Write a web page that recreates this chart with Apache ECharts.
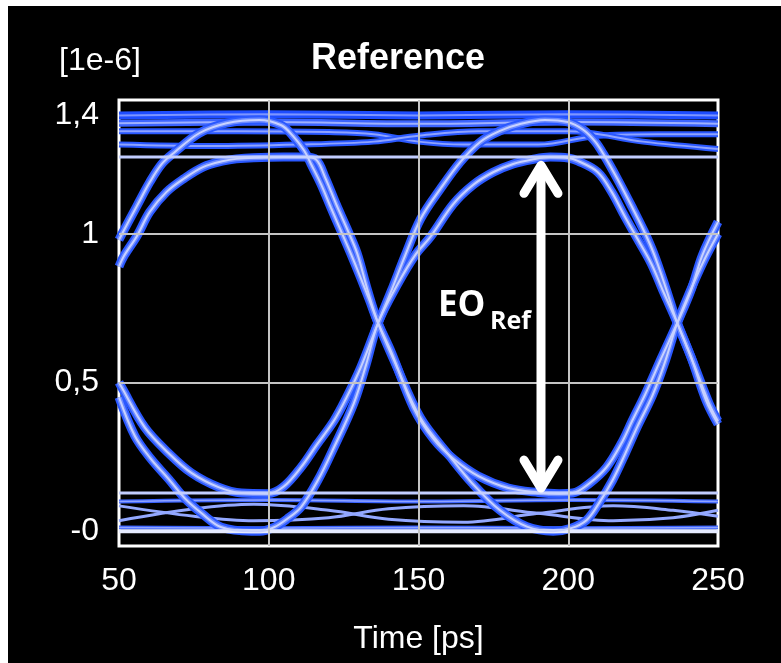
<!DOCTYPE html>
<html>
<head>
<meta charset="utf-8">
<script src="https://cdn.jsdelivr.net/npm/echarts@6/dist/echarts.min.js"></script>
<style>
  html, body { margin: 0; padding: 0; background: #fff; }
  #main { position: absolute; left: 8px; top: 6px; width: 773px; height: 657px; }
</style>
<title>Reference eye</title>
</head>
<body>
<div id="main"></div>
<script>
// axes
var xTicks = [50, 100, 150, 200, 250];
var yTickValues = [0, 0.5, 1, 1.4];
var yTickLabels = ['-0', '0,5', '1', '1,4'];
var xGrid = [100, 150, 200];
var yGrid = [0.5, 1];

// eye traces, [time ps, value 1e-6]
var traceA = [[50,0.98],[51.7,1.013],[56,1.094],[60.3,1.174],[64.3,1.235],[68.3,1.272],[76.9,1.339],[85.9,1.372],[96.8,1.383],[104.2,1.365],[108,1.33],[111.8,1.28],[114.1,1.235],[117.4,1.168],[120.8,1.087],[124.1,1.01],[127.4,0.933],[130.7,0.852],[133.5,0.78],[136.5,0.70],[141,0.6],[148.3,0.416],[155,0.31],[162,0.24],[170,0.185],[180,0.145],[190,0.13],[197,0.126],[201.5,0.128],[207,0.16],[212.8,0.215],[218,0.3],[221.4,0.372],[225.7,0.46],[231,0.58],[236.4,0.70],[241,0.81],[244.7,0.926],[250,1.04]];
var traceB = [[50,0.89],[51.7,0.926],[56,0.993],[60.3,1.074],[65.9,1.141],[71.6,1.185],[78.2,1.225],[84.9,1.245],[89.2,1.252],[95,1.256],[105,1.258],[112,1.258],[115.8,1.25],[118.8,1.19],[122.5,1.10],[126,1.02],[129.5,0.935],[133,0.81],[136.5,0.70],[142,0.57],[150.7,0.38],[160.6,0.25],[168,0.16],[177.2,0.07],[186.2,0.015],[195,0.0],[201,0.01],[206.1,0.037],[210,0.09],[214.8,0.171],[219,0.26],[223,0.35],[228.1,0.456],[232,0.56],[236.4,0.70],[240.4,0.80],[245.3,0.91],[250,1.0]];
var traceC = [[50,0.50],[50.7,0.487],[58.6,0.349],[66.6,0.262],[74.3,0.195],[83.2,0.148],[90.9,0.128],[99.8,0.126],[105,0.15],[110.8,0.215],[116,0.29],[121.8,0.372],[126,0.45],[130.7,0.55],[136.5,0.70],[141,0.81],[145.5,0.926],[150.7,1.05],[157.3,1.151],[164,1.242],[170.6,1.309],[177.2,1.346],[183.9,1.369],[192.2,1.383],[199.8,1.376],[205,1.35],[209,1.31],[212.1,1.262],[216.4,1.185],[221.1,1.094],[225.4,1.007],[228.7,0.93],[232.5,0.82],[236.4,0.70],[241,0.585],[246,0.44],[250,0.36]];
var traceD = [[50,0.45],[55.3,0.32],[60.5,0.245],[66.6,0.175],[72,0.11],[77.6,0.06],[84.2,0.013],[94.2,0.0],[97,0.0],[101.8,0.013],[106,0.04],[110.8,0.081],[116.4,0.171],[121.8,0.282],[128.4,0.43],[132.5,0.56],[136.5,0.70],[143,0.83],[149,0.93],[154,0.99],[161.6,1.1],[168.3,1.165],[174.9,1.207],[181.6,1.235],[188,1.25],[194,1.258],[200,1.255],[203.2,1.245],[209.8,1.208],[214.5,1.141],[218.8,1.06],[223.1,0.983],[227.7,0.9],[232,0.8],[236.4,0.70],[242,0.56],[247,0.43],[250,0.37]];

// level bands
var hiTop = [[50,1.398],[100,1.402],[150,1.398],[200,1.402],[250,1.398]];
var hiMid = [[50,1.372],[100,1.376],[150,1.37],[200,1.376],[250,1.37]];
var hiUp = [[50,1.345],[90,1.345],[120,1.342],[135,1.335],[150,1.31],[165,1.30],[190,1.30],[210,1.33],[230,1.335],[250,1.335]];
var hiDn = [[50,1.30],[80,1.295],[110,1.30],[135,1.31],[150,1.33],[170,1.345],[200,1.345],[225,1.31],[250,1.285]];
var hiEye = [[50,1.258],[150,1.258],[250,1.258]];
var loEye = [[50,0.128],[150,0.128],[250,0.128]];
var loB = [[50,0.10],[100,0.105],[150,0.10],[200,0.105],[250,0.10]];
var loUp = [[50,0.035],[75,0.075],[95,0.09],[120,0.07],[140,0.04],[165,0.03],[190,0.06],[215,0.085],[235,0.07],[250,0.05]];
var loDn = [[50,0.085],[75,0.05],[95,0.035],[120,0.045],[140,0.075],[165,0.085],[190,0.06],[215,0.035],[235,0.045],[250,0.07]];
var loF = [[50,0.012],[100,0.01],[150,0.012],[200,0.01],[250,0.012]];
var loZero = [[50,0],[150,0],[250,0]];

// EO arrow: time, top, bottom
var arrow = [[190.9, 1.237, 0.138]];

var myChart = echarts.init(document.getElementById('main'));
var font = 'Liberation Sans';

function line(data, w, c, z) {
    return {
        type: 'line', data: data, showSymbol: false, symbol: 'none',
        smooth: 0.35, silent: true, z: z || 3,
        lineStyle: { width: w, color: c }
    };
}

var series = [];
var first = line(hiTop, 8, '#1e4dff', 2);
first.markLine = {
    silent: true, symbol: ['none', 'none'], label: { show: false },
    lineStyle: { color: '#c4c4c4', width: 2, type: 'solid' },
    data: xGrid.map(function (v) { return { xAxis: v }; })
        .concat(yGrid.map(function (v) { return { yAxis: v }; }))
};
series.push(first);
series.push(line(hiMid, 7, '#3d65ff'));
series.push(line(hiTop, 2, '#7d95ff'));
series.push(line(hiMid, 2, '#9fb1ff'));
[hiUp, hiDn].forEach(function (d) {
    series.push(line(d, 6, '#2a58ff'));
    series.push(line(d, 2, '#8fa3ff'));
});
[loB, loF].forEach(function (d) {
    series.push(line(d, 4, '#3a63ff'));
    series.push(line(d, 1.5, '#8fa3ff'));
});
[loUp, loDn].forEach(function (d) { series.push(line(d, 3, '#93a8ff')); });
[traceA, traceB, traceC, traceD].forEach(function (d) {
    series.push(line(d, 9, '#2a58ff'));
});
[traceA, traceB, traceC, traceD].forEach(function (d) {
    series.push(line(d, 5, '#6d8bff'));
});
series.push(line(hiEye, 3, '#c2cdff'));
series.push(line(loEye, 3, '#c2cdff'));
series.push(line(loZero, 4, '#e6ebff'));
[traceA, traceB, traceC, traceD].forEach(function (d) {
    series.push(line(d, 2, '#c8d2ff'));
});

series.push({
    type: 'custom', data: arrow, silent: true, z: 10,
    encode: { x: 0, y: [1, 2] },
    renderItem: function (params, api) {
        var top = api.coord([api.value(0), api.value(1)]);
        var bot = api.coord([api.value(0), api.value(2)]);
        var st = { stroke: '#fff', lineWidth: 9, lineCap: 'round', lineJoin: 'round', fill: null };
        return {
            type: 'group',
            children: [
                { type: 'line', shape: { x1: top[0], y1: top[1] + 4, x2: bot[0], y2: bot[1] - 4 }, style: st },
                { type: 'polyline', shape: { points: [[top[0] - 17, top[1] + 30], [top[0], top[1] + 2], [top[0] + 17, top[1] + 30]] }, style: st },
                { type: 'polyline', shape: { points: [[bot[0] - 17, bot[1] - 30], [bot[0], bot[1] - 2], [bot[0] + 17, bot[1] - 30]] }, style: st }
            ]
        };
    }
});

myChart.setOption({
    animation: false,
    backgroundColor: '#000',
    grid: { left: 111, right: 63, top: 94, bottom: 117, show: true, borderColor: '#fff', borderWidth: 3, backgroundColor: 'transparent' },
    xAxis: {
        type: 'value', min: 50, max: 250, interval: 50,
        name: 'Time [ps]', nameLocation: 'middle', nameGap: 77,
        nameTextStyle: { color: '#fff', fontSize: 32, fontFamily: font },
        axisLine: { show: false },
        axisTick: { inside: true, length: 14, lineStyle: { color: '#fff', width: 2 } },
        axisLabel: { color: '#fff', fontSize: 32, fontFamily: font, margin: 19 },
        splitLine: { show: false }
    },
    yAxis: {
        type: 'value', min: -0.05, max: 1.45,
        axisLine: { show: false },
        axisTick: { inside: true, length: 12, customValues: yTickValues, lineStyle: { color: '#fff', width: 2 } },
        axisLabel: {
            color: '#fff', fontSize: 32, fontFamily: font, margin: 20,
            customValues: yTickValues,
            formatter: function (v) {
                var i = yTickValues.indexOf(v);
                return i >= 0 ? yTickLabels[i] : '';
            }
        },
        splitLine: { show: false }
    },
    graphic: [
        { type: 'text', x: 92, y: 55, style: { text: '[1e-6]', fill: '#fff', font: '32px ' + font, align: 'center', verticalAlign: 'middle', textAlign: 'center', textVerticalAlign: 'middle' } },
        { type: 'text', x: 390, y: 53, style: { text: 'Reference', fill: '#fff', font: 'bold 36px ' + font, align: 'center', verticalAlign: 'middle', textAlign: 'center', textVerticalAlign: 'middle' } },
        { type: 'text', x: 430, y: 300, z: 20, style: { text: 'EO', fill: '#fff', font: 'bold 35px "Open Sans"', align: 'left', verticalAlign: 'middle', textAlign: 'left', textVerticalAlign: 'middle' } },
        { type: 'text', x: 482, y: 316, z: 20, style: { text: 'Ref', fill: '#fff', font: 'bold 25px "Open Sans"', align: 'left', verticalAlign: 'middle', textAlign: 'left', textVerticalAlign: 'middle' } }
    ],
    series: series
});
</script>
</body>
</html>
